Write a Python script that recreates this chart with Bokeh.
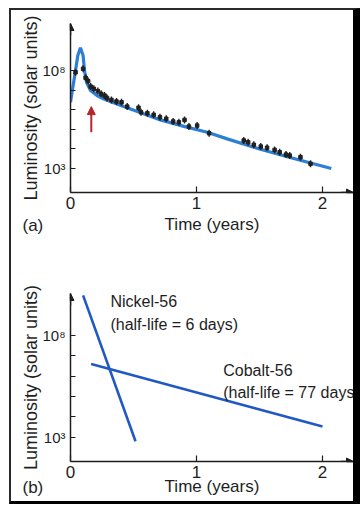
from bokeh.plotting import figure
from bokeh.models import (Range1d, FixedTicker, CustomJSTickFormatter, Arrow,
                          NormalHead, Label, Title)
from bokeh.layouts import column
from bokeh.embed import file_html
from bokeh.resources import INLINE
import math

# ---------------- data ----------------
# Panel (a): model light curve (time in years, log10 luminosity)
curve_time = [0.0, 0.02, 0.04, 0.058, 0.079, 0.10, 0.111, 0.127, 0.159, 0.21,
              0.265, 0.40, 0.58, 0.714, 0.9, 1.085, 1.25, 1.5, 1.75, 2.07]
curve_logL = [6.38, 7.2, 8.0, 8.77, 9.16, 8.77, 8.0, 7.40, 6.98, 6.72,
              6.55, 6.21, 5.79, 5.48, 5.15, 4.85, 4.5, 4.0, 3.55, 3.0]

# Panel (a): observed points
obs_time = [0.04, 0.10, 0.12, 0.14, 0.16, 0.185, 0.217, 0.243, 0.27, 0.29,
            0.325, 0.365, 0.405, 0.45, 0.54, 0.56, 0.61, 0.66, 0.71, 0.76,
            0.815, 0.86, 0.905, 0.94, 1.005, 1.10, 1.375, 1.41, 1.455, 1.51,
            1.56, 1.62, 1.66, 1.71, 1.74, 1.825, 1.905]
obs_logL = [7.91, 8.09, 7.63, 7.46, 7.18, 7.07, 6.95, 6.81, 6.72, 6.60,
            6.50, 6.42, 6.38, 6.16, 6.10, 5.87, 5.82, 5.74, 5.62, 5.54,
            5.40, 5.36, 5.48, 5.14, 5.19, 4.80, 4.43, 4.34, 4.21, 4.12,
            4.06, 3.95, 3.83, 3.71, 3.66, 3.58, 3.24]

# Panel (b): decay lines
nickel_time = [0.10, 0.516]
nickel_logL = [9.97, 2.8]
cobalt_time = [0.164, 2.0]
cobalt_logL = [6.6, 3.53]

# Axis ticks / labels
x_ticks = [0, 1, 2]
y_tick_exps = [3, 4, 5, 6, 7, 8]
y_tick_labels = {8: "10⁸", 3: "10³"}

arrow_time = 0.165          # red arrow marking in panel (a)
arrow_logL = [4.85, 6.16]

FONT = "Liberation Sans"
INK = "#1e1e1e"

def lum(exps):
    return [10 ** e for e in exps]

def style(p, ylo, yhi, xhi):
    p.outline_line_color = None
    p.xgrid.grid_line_color = None
    p.ygrid.grid_line_color = None
    p.background_fill_color = "white"
    p.border_fill_color = "white"
    for ax in (p.xaxis, p.yaxis):
        ax.axis_line_color = INK
        ax.axis_line_width = 1.5
        ax.major_tick_line_color = INK
        ax.major_tick_line_width = 1.2
        ax.minor_tick_line_color = None
        ax.major_tick_out = 0
        ax.major_label_text_font = FONT
        ax.major_label_text_color = INK
        ax.axis_label_text_font = FONT
        ax.axis_label_text_font_style = "normal"
        ax.axis_label_text_color = INK
    p.xaxis.ticker = FixedTicker(ticks=x_ticks)
    p.xaxis.major_tick_in = 6
    p.xaxis.major_label_text_font_size = "17px"
    p.xaxis.major_label_standoff = 4
    p.xaxis.axis_label = "Time (years)"
    p.xaxis.axis_label_text_font_size = "17px"
    p.yaxis.ticker = FixedTicker(ticks=lum(y_tick_exps))
    p.yaxis.major_tick_in = 5
    p.yaxis.major_label_text_font_size = "15px"
    p.yaxis.major_label_standoff = 5
    p.yaxis.formatter = CustomJSTickFormatter(
        args=dict(labels={str(k): v for k, v in y_tick_labels.items()}),
        code="""
        const e = String(Math.round(Math.log10(tick)));
        return (e in labels) ? labels[e] : "";
        """)
    p.yaxis.axis_label = "Luminosity (solar units)"
    p.yaxis.axis_label_text_font_size = "18px"
    p.yaxis.axis_label_standoff = -2
    # axis arrows
    p.add_layout(Arrow(end=NormalHead(size=7, fill_color=INK, line_color=INK),
                       x_start=0, y_start=10 ** (yhi - 0.6), x_end=0, y_end=10 ** yhi,
                       line_color=INK, line_width=1.5))
    p.add_layout(Arrow(end=NormalHead(size=7, fill_color=INK, line_color=INK),
                       x_start=xhi - 0.1, y_start=10 ** ylo, x_end=xhi, y_end=10 ** ylo,
                       line_color=INK, line_width=1.5))

def tag(p, text, standoff):
    p.add_layout(Title(text=text, align="left", vertical_align="top", offset=-48,
                       standoff=standoff, text_font=FONT, text_font_size="17px",
                       text_font_style="normal", text_color=INK), "below")

XHI = 2.246

# ---------------- panel (a) ----------------
YA_LO, YA_HI = 1.776, 10.40
pa = figure(width=342, height=240, x_range=Range1d(0, XHI),
            y_range=Range1d(10 ** YA_LO, 10 ** YA_HI), y_axis_type="log",
            output_backend="svg", toolbar_location=None,
            min_border_left=59, min_border_right=0, min_border_top=13,
            min_border_bottom=58)
style(pa, YA_LO, YA_HI, XHI)
pa.xaxis.axis_label_standoff = 3

pa.line(curve_time, lum(curve_logL), line_color="#2d7fd6", line_width=3.2)
pa.scatter(obs_time, lum(obs_logL), marker="dash", angle=math.pi / 2, size=7,
           line_color="#202020", line_width=1.4)
pa.scatter(obs_time, lum(obs_logL), marker="square", size=3.5,
           fill_color="#202020", line_color="#202020")
pa.add_layout(Arrow(end=NormalHead(size=8, fill_color="#b5262d", line_color="#b5262d"),
                    x_start=arrow_time, y_start=10 ** arrow_logL[0],
                    x_end=arrow_time, y_end=10 ** arrow_logL[1],
                    line_color="#b5262d", line_width=2))
tag(pa, "(a)", -42)

# ---------------- panel (b) ----------------
YB_LO, YB_HI = 1.805, 10.065
pb = figure(width=342, height=251, x_range=Range1d(0, XHI),
            y_range=Range1d(10 ** YB_LO, 10 ** YB_HI), y_axis_type="log",
            output_backend="svg", toolbar_location=None,
            min_border_left=59, min_border_right=0, min_border_top=43,
            min_border_bottom=40)
style(pb, YB_LO, YB_HI, XHI)
pb.xaxis.axis_label_standoff = -4

pb.line(nickel_time, lum(nickel_logL), line_color="#2159c2", line_width=2.6)
pb.line(cobalt_time, lum(cobalt_logL), line_color="#2159c2", line_width=2.6)

def note(p, x, yexp, text, size="16px", align="left"):
    p.add_layout(Label(x=x, y=10 ** yexp, text=text, text_font=FONT,
                       text_font_size=size, text_color=INK, text_align=align,
                       text_baseline="alphabetic"))

note(pb, 0.317, 9.69, "Nickel-56")
note(pb, 0.317, 8.54, "(half-life = 6 days)")
note(pb, 1.212, 6.28, "Cobalt-56")
note(pb, 1.212, 5.21, "(half-life = 77 days)")
tag(pb, "(b)", -42)

layout = column(pa, pb, spacing=0,
                styles={"margin-left": "9px", "margin-top": "8px",
                        "border-left": "2px solid #2a2a2a",
                        "border-top": "2px solid #2a2a2a",
                        "border-right": "7px solid #000",
                        "border-bottom": "3px solid #000"})

with open("out.html", "w", encoding="utf-8") as f:
    f.write(file_html(layout, INLINE))
